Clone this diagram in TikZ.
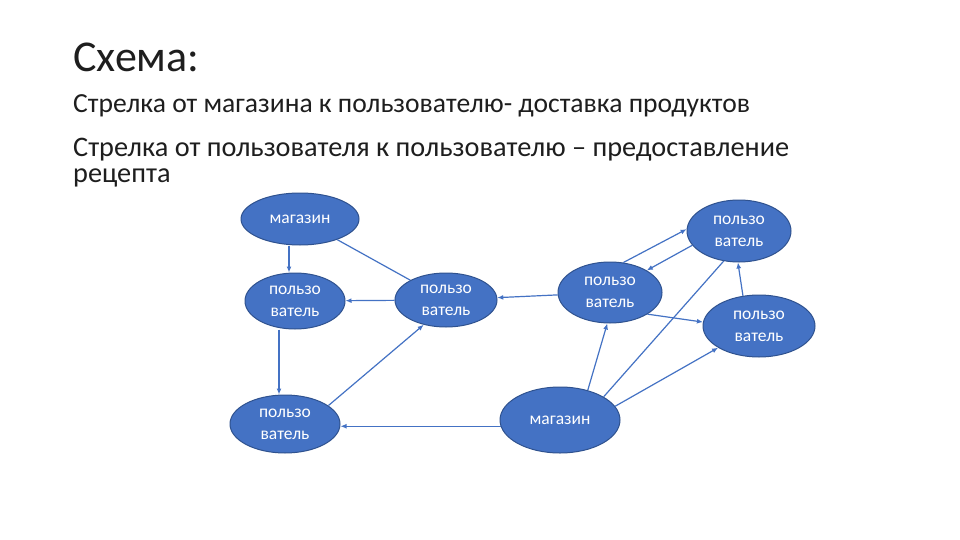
\documentclass[tikz,border=0pt]{standalone}
\usepackage{fontspec}
\setmainfont{Carlito}
\usetikzlibrary{arrows.meta,shapes.geometric}
\definecolor{nodefill}{HTML}{4472C4}
\definecolor{nodeedge}{HTML}{2F528F}
\definecolor{txt}{HTML}{1E1E1E}
\begin{document}
\begin{tikzpicture}[x=1pt,y=-1pt,
  ell/.style={ellipse, draw=nodeedge, line width=1pt, fill=nodefill, inner sep=0pt,
    text=white, align=center, font=\fontsize{17.5}{22}\selectfont},
  conn/.style={draw=nodefill, line width=1.2pt},
  arr/.style={conn, -{Latex[length=6pt,width=5pt]}},
  heading/.style={anchor=base west, inner sep=0pt, text=txt},
  bodytext/.style={heading, font=\fontsize{28}{34}\selectfont}]
\useasboundingbox (0,0) rectangle (960,540);
\fill[white] (0,0) rectangle (960,540);

\node[heading, font=\fontsize{44}{52}\selectfont] (title) at (73,72) {Схема:};
\node[bodytext, font=\fontsize{27.6}{34}\selectfont] (l1) at (73,112.5) {Стрелка от магазина к пользователю- доставка продуктов};
\node[bodytext, font=\fontsize{28.3}{34}\selectfont] (l2) at (73,156.5) {Стрелка от пользователя к пользователю – предоставление};
\node[bodytext, font=\fontsize{28.3}{34}\selectfont] (l3) at (73,182.5) {рецепта};

\node[ell, minimum width=118pt, minimum height=52pt] (M1) at (300,219) {магазин};
\node[ell, minimum width=100pt, minimum height=56pt] (U1) at (295,301) {пользо\\ватель};
\node[ell, minimum width=110pt, minimum height=58pt] (U2) at (285,424) {пользо\\ватель};
\node[ell, minimum width=102pt, minimum height=54pt] (U3) at (446,300) {пользо\\ватель};
\node[ell, minimum width=104pt, minimum height=61pt] (U4) at (610,292.5) {пользо\\ватель};
\node[ell, minimum width=104pt, minimum height=62pt] (U5) at (739,231) {пользо\\ватель};
\node[ell, minimum width=112pt, minimum height=62pt] (U6) at (759,326) {пользо\\ватель};
\node[ell, minimum width=120pt, minimum height=66pt] (M2) at (560,420) {магазин};

\draw[arr] ([xshift=-11pt]M1.south) -- ([xshift=-6pt]U1.north);
\draw[conn] (M1) -- (U3);
\draw[arr] (U3) -- (U1);
\draw[arr] ([xshift=-16pt]U1.south) -- ([xshift=-6pt]U2.north);
\draw[arr] (U2.23) -- (U3.228);
\draw[arr] (M2.186) -- (U2.east |- M2.186);
\draw[arr] (U4) -- (U3);
\draw[arr] (U4.66) -- (U5.178);
\draw[arr] (U5.197) -- (U4.31);
\draw[arr] (U4.-30) -- (U6.176);
\draw[arr] (U6.118) -- (U5.268);
\draw[arr] (M2.47) -- (U4.265);
\draw[conn] (M2.28) -- (U5.243);
\draw[arr] (M2.14) -- (U6.208);
\end{tikzpicture}
\end{document}
